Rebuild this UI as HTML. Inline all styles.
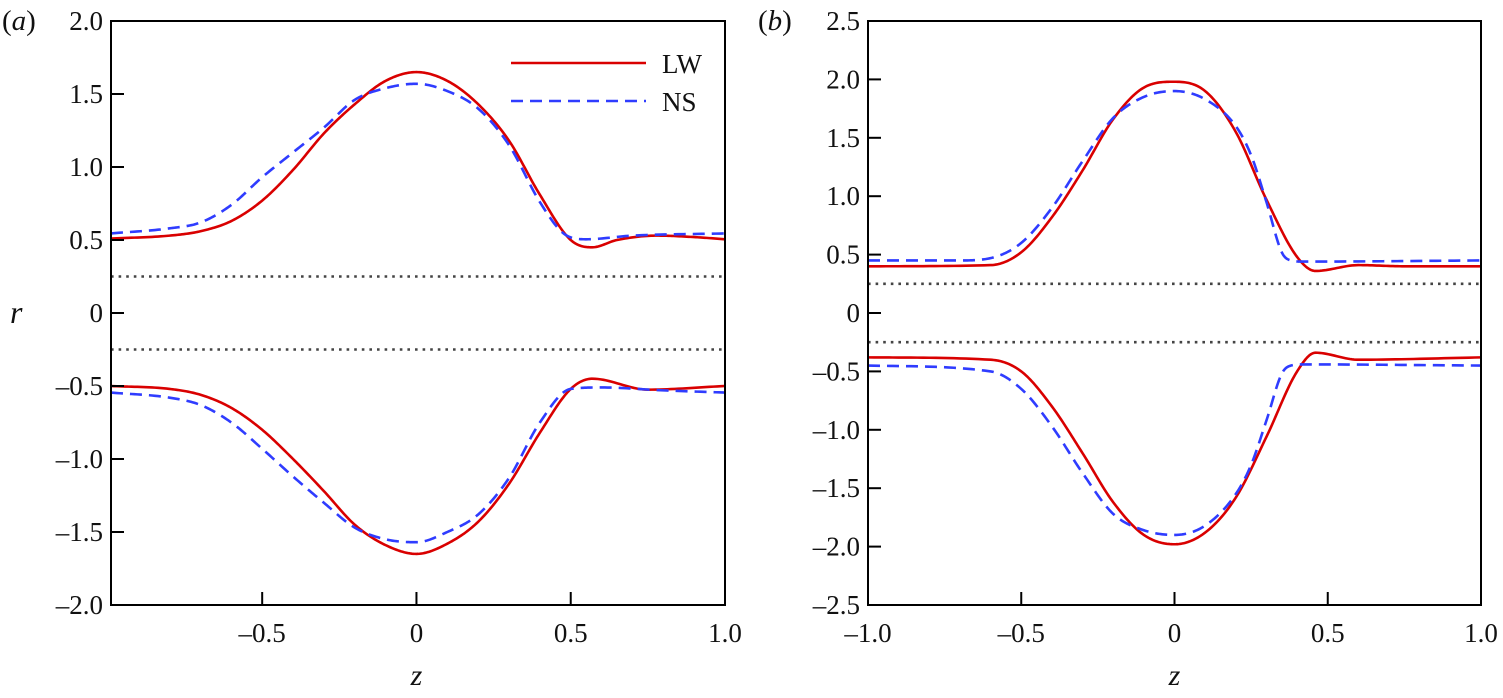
<!DOCTYPE html>
<html><head><meta charset="utf-8"><style>
body{margin:0;background:#fff;}
svg text{font-family:"Liberation Serif","Times New Roman","DejaVu Serif","Noto Serif CJK SC",serif;fill:#111;}
</style></head><body>
<svg id="fig" width="1503" height="693" viewBox="0 0 1503 693"></svg>
<script>
// Panel (a) data
const aZ_LWu=[-0.99,-0.8,-0.7,-0.6,-0.5,-0.4,-0.3,-0.2,-0.1,0,0.1,0.2,0.3,0.4,0.5,0.57,0.65,0.78,0.9,1.0];
const aLWu=[0.51,0.53,0.56,0.63,0.77,0.98,1.23,1.43,1.59,1.65,1.59,1.43,1.18,0.81,0.5,0.45,0.5,0.53,0.52,0.505];
const aZ_NSu=[-0.99,-0.8,-0.7,-0.6,-0.5,-0.4,-0.3,-0.2,-0.1,0,0.1,0.2,0.3,0.4,0.48,0.55,0.7,1.0];
const aNSu=[0.545,0.58,0.62,0.74,0.93,1.1,1.27,1.46,1.54,1.57,1.52,1.40,1.15,0.76,0.54,0.505,0.53,0.545];
const aZ_LWl=[-0.99,-0.8,-0.7,-0.6,-0.5,-0.4,-0.3,-0.2,-0.1,0,0.1,0.2,0.3,0.4,0.5,0.57,0.75,1.0];
const aLWl=[-0.5,-0.52,-0.56,-0.65,-0.8,-1.0,-1.22,-1.45,-1.59,-1.65,-1.58,-1.43,-1.17,-0.82,-0.52,-0.45,-0.525,-0.5];
const aZ_NSl=[-0.99,-0.8,-0.7,-0.6,-0.5,-0.4,-0.3,-0.2,-0.1,0,0.1,0.2,0.3,0.4,0.5,0.6,0.8,1.0];
const aNSl=[-0.545,-0.58,-0.63,-0.75,-0.93,-1.12,-1.3,-1.47,-1.55,-1.57,-1.5,-1.38,-1.13,-0.75,-0.52,-0.51,-0.53,-0.545];
// Panel (b) data
const bZ_LWu=[-1,-0.6,-0.5,-0.4,-0.3,-0.2,-0.1,0,0.1,0.2,0.3,0.4,0.46,0.6,0.75,1];
const bLWu=[0.4,0.41,0.52,0.82,1.22,1.66,1.93,1.98,1.9,1.55,0.97,0.48,0.36,0.41,0.4,0.4];
const bZ_NSu=[-1,-0.7,-0.6,-0.5,-0.4,-0.3,-0.2,-0.1,0,0.1,0.2,0.25,0.3,0.35,0.38,0.42,1];
const bNSu=[0.45,0.45,0.47,0.6,0.9,1.3,1.67,1.85,1.9,1.83,1.6,1.35,0.95,0.52,0.45,0.44,0.45];
const bZ_LWl=[-1,-0.6,-0.5,-0.4,-0.3,-0.2,-0.1,0,0.1,0.2,0.3,0.4,0.46,0.6,1];
const bLWl=[-0.38,-0.4,-0.5,-0.8,-1.2,-1.62,-1.9,-1.98,-1.88,-1.58,-1.06,-0.5,-0.34,-0.4,-0.38];
const bZ_NSl=[-1,-0.6,-0.5,-0.4,-0.3,-0.2,-0.1,0,0.1,0.2,0.25,0.3,0.35,0.38,0.42,1];
const bNSl=[-0.45,-0.5,-0.65,-0.97,-1.37,-1.72,-1.86,-1.9,-1.82,-1.55,-1.3,-0.92,-0.52,-0.45,-0.44,-0.45];
const aYTicks=[2.0,1.5,1.0,0.5,0,-0.5,-1.0,-1.5,-2.0];
const bYTicks=[2.5,2.0,1.5,1.0,0.5,0,-0.5,-1.0,-1.5,-2.0,-2.5];
const aXTicks=[-0.5,0,0.5,1.0];
const bXTicks=[-1.0,-0.5,0,0.5,1.0];
const dotted=[0.25,-0.25];

const NS='http://www.w3.org/2000/svg';
const svg=document.getElementById('fig');
function mk(t,a,p){const e=document.createElementNS(NS,t);for(const k in a)e.setAttribute(k,a[k]);(p||svg).appendChild(e);return e;}
function fmt(v){if(v===0)return '0';return (v<0?'\u2013':'')+Math.abs(v).toFixed(1);}
function curve(xs,ys,sx,sy){
  const n=xs.length,d=[],m=[];
  for(let i=0;i<n-1;i++)d.push((ys[i+1]-ys[i])/(xs[i+1]-xs[i]));
  m[0]=d[0];m[n-1]=d[n-2];
  for(let i=1;i<n-1;i++)m[i]=(d[i-1]*d[i]<=0)?0:(d[i-1]+d[i])/2;
  for(let i=0;i<n-1;i++){if(d[i]===0){m[i]=0;m[i+1]=0;continue;}
    const a=m[i]/d[i],b=m[i+1]/d[i],s=a*a+b*b;if(s>9){const t=3/Math.sqrt(s);m[i]=t*a*d[i];m[i+1]=t*b*d[i];}}
  let p='';
  for(let i=0;i<n-1;i++){const h=xs[i+1]-xs[i];
    for(let k=0;k<=20;k++){if(i>0&&k===0)continue;const t=k/20,t2=t*t,t3=t2*t;
      const y=(2*t3-3*t2+1)*ys[i]+(t3-2*t2+t)*h*m[i]+(-2*t3+3*t2)*ys[i+1]+(t3-t2)*h*m[i+1];
      p+=(p?' L':'M')+sx(xs[i]+t*h).toFixed(2)+','+sy(y).toFixed(2);}}
  return p;
}
function panel(o){
  const g=mk('g',{});
  
  
  const sx=z=>o.x0+(z-o.zmin)/(o.zmax-o.zmin)*(o.x1-o.x0);
  const sy=v=>o.y0+(o.ymax-v)/(o.ymax-o.ymin)*(o.y1-o.y0);
  dotted.forEach(v=>{const l=mk('line',{x1:o.x0,x2:o.x1,y1:sy(v),y2:sy(v),stroke:'#444','stroke-width':2.6,'stroke-dasharray':'2.6 5'},g);
    });
  o.series.forEach(s=>{const p=mk('path',{d:curve(s.z,s.v,sx,sy),fill:'none',stroke:s.ns?'#2f3cff':'#d90000','stroke-width':2.6,'stroke-dasharray':s.ns?'12 7':'none'},g);
    });
  const box=mk('rect',{x:o.x0,y:o.y0,width:o.x1-o.x0,height:o.y1-o.y0,fill:'none',stroke:'#000','stroke-width':2},g);
  
  o.yt.forEach(v=>{const y=sy(v);
    mk('line',{x1:o.x0,x2:o.x0+13,y1:y,y2:y,stroke:'#000','stroke-width':2},g);
    const t=mk('text',{x:o.x0-8,y:y+9,'text-anchor':'end','font-size':27},g);t.textContent=fmt(v);
    });
  o.xt.forEach(v=>{const x=sx(v);
    if(v>o.zmin&&v<o.zmax)mk('line',{x1:x,x2:x,y1:o.y1,y2:o.y1-13,stroke:'#000','stroke-width':2},g);
    const t=mk('text',{x:x,y:o.y1+37,'text-anchor':'middle','font-size':27},g);t.textContent=fmt(v);
    });
  const zl=mk('text',{x:sx(0),y:685,'text-anchor':'middle','font-size':30,'font-style':'italic'},g);zl.textContent='z';
  
  return {sx,sy};
}
panel({name:'panel-a',x0:111,x1:725,y0:21,y1:605,zmin:-0.99,zmax:1.0,ymin:-2,ymax:2,yt:aYTicks,xt:aXTicks,
 series:[{name:'lw-upper-a',z:aZ_LWu,v:aLWu},{name:'ns-upper-a',z:aZ_NSu,v:aNSu,ns:1},{name:'lw-lower-a',z:aZ_LWl,v:aLWl},{name:'ns-lower-a',z:aZ_NSl,v:aNSl,ns:1}]});
panel({name:'panel-b',x0:868,x1:1481,y0:21,y1:605,zmin:-1,zmax:1,ymin:-2.5,ymax:2.5,yt:bYTicks,xt:bXTicks,
 series:[{name:'lw-upper-b',z:bZ_LWu,v:bLWu},{name:'ns-upper-b',z:bZ_NSu,v:bNSu,ns:1},{name:'lw-lower-b',z:bZ_LWl,v:bLWl},{name:'ns-lower-b',z:bZ_NSl,v:bNSl,ns:1}]});
let t=mk('text',{x:2,y:30,'font-size':29});t.innerHTML='(<tspan font-style="italic">a</tspan>)';

t=mk('text',{x:758,y:30,'font-size':29});t.innerHTML='(<tspan font-style="italic">b</tspan>)';

t=mk('text',{x:10,y:323,'font-size':32,'font-style':'italic'});t.textContent='r';

const lg=mk('g',{});


mk('line',{x1:511,x2:646,y1:63,y2:63,stroke:'#d90000','stroke-width':2.6},lg);
mk('line',{x1:511,x2:646,y1:101,y2:101,stroke:'#2f3cff','stroke-width':2.6,'stroke-dasharray':'12 7'},lg);
t=mk('text',{x:662,y:73,'font-size':27},lg);t.textContent='LW';

t=mk('text',{x:662,y:111,'font-size':27},lg);t.textContent='NS';

</script>
</body></html>
